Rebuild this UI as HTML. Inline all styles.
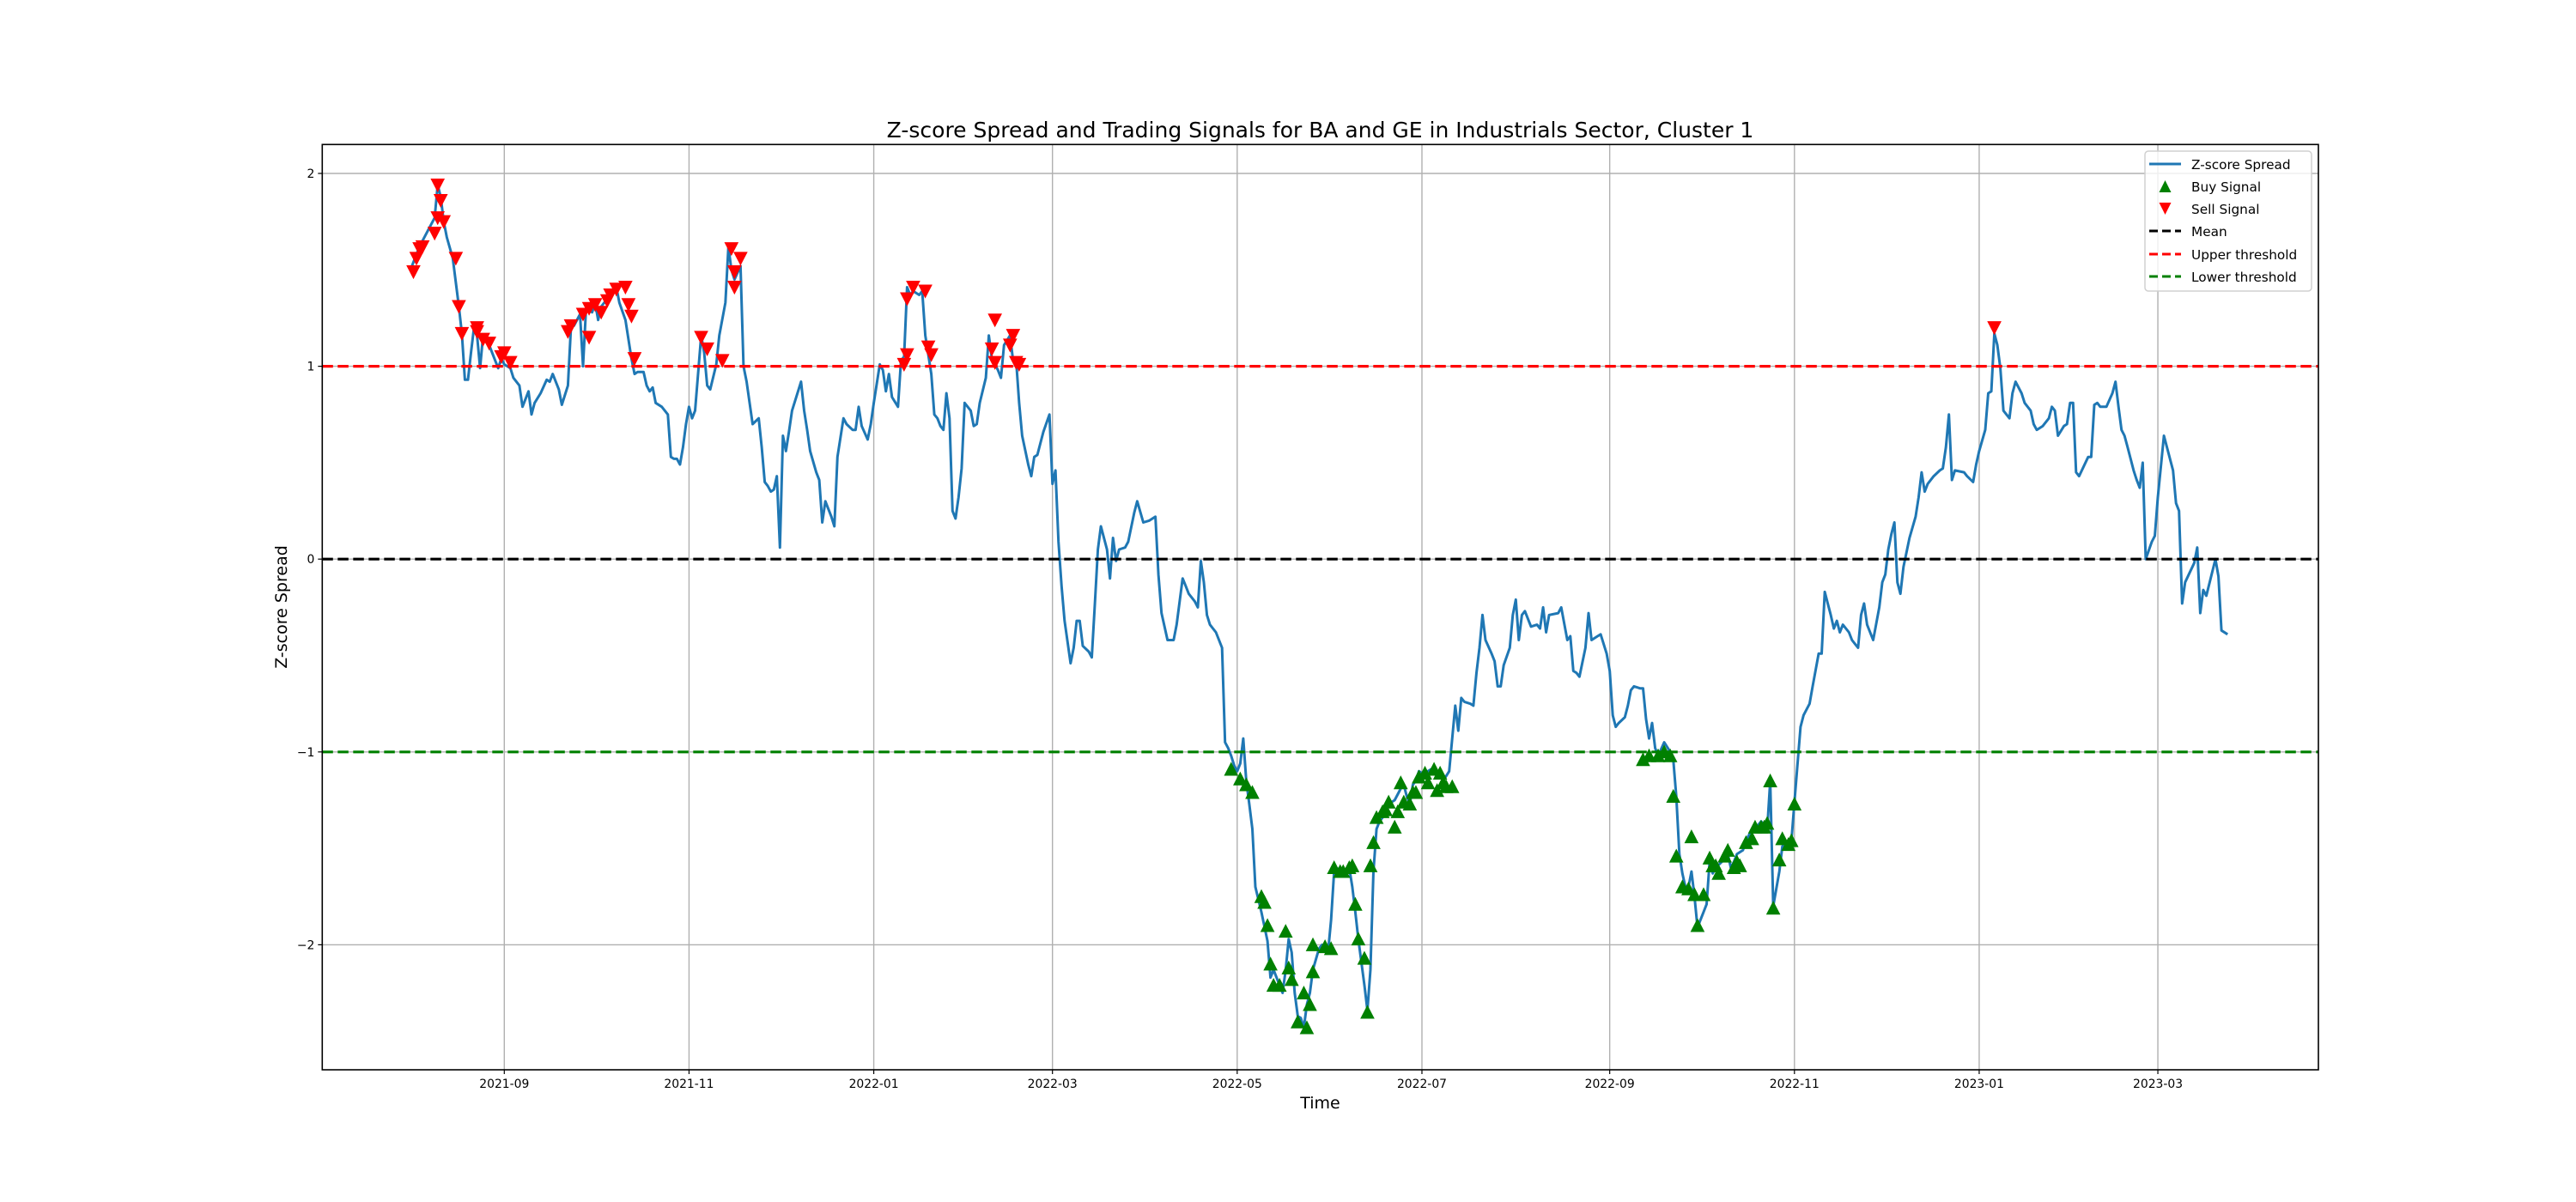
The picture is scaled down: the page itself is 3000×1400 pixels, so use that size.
<!DOCTYPE html>
<html><head><meta charset="utf-8"><style>
html,body{margin:0;padding:0;background:#fff;}
svg{display:block;font-family:"DejaVu Sans","Liberation Sans",sans-serif;}
</style></head><body>
<svg id="chart" width="3000" height="1400" viewBox="0 0 3000 1400" xmlns="http://www.w3.org/2000/svg">
<rect width="3000" height="1400" fill="#fff"/>
<text x="1537.5" y="160" text-anchor="middle" font-size="25" fill="#000">Z-score Spread and Trading Signals for BA and GE in Industrials Sector, Cluster 1</text>
<g id="grid"></g>
<g id="plot"></g>
<g id="axes"></g>
<text x="1537.5" y="1291" text-anchor="middle" font-size="19" fill="#000">Time</text>
<text x="0" y="0" transform="translate(334,707) rotate(-90)" text-anchor="middle" font-size="19" fill="#000">Z-score Spread</text>
<g>
<rect x="2498" y="176" width="194" height="163" rx="4" fill="#fff" fill-opacity="0.8" stroke="#d0d0d0" stroke-width="1.5"/>
<g><line x1="2503" y1="191" x2="2540" y2="191" stroke="#1f77b4" stroke-width="3"/><text x="2552" y="197" font-size="15.3">Z-score Spread</text></g>
<g><polygon points="2521.5,210 2514.5,224 2528.5,224" fill="green"/><text x="2552" y="223" font-size="15.3">Buy Signal</text></g>
<g><polygon points="2521.5,250 2514.5,236 2528.5,236" fill="red"/><text x="2552" y="249" font-size="15.3">Sell Signal</text></g>
<g><line x1="2503" y1="269" x2="2540" y2="269" stroke="#000" stroke-width="3" stroke-dasharray="10,5"/><text x="2552" y="275" font-size="15.3">Mean</text></g>
<g><line x1="2503" y1="296" x2="2540" y2="296" stroke="red" stroke-width="3" stroke-dasharray="10,5"/><text x="2552" y="302" font-size="15.3">Upper threshold</text></g>
<g><line x1="2503" y1="322" x2="2540" y2="322" stroke="green" stroke-width="3" stroke-dasharray="10,5"/><text x="2552" y="328" font-size="15.3">Lower threshold</text></g>
</g>
</svg>
<script>
// days since 2021-08-01
const days=[0,2,3,6,8,9,10,11,12,14,16,17,18,19,20,21,22,23,24,26,28,29,30,31,33,34,36,37,39,40,41,43,45,46,47,49,50,52,53,54,56,57,58,60,61,62,63,65,66,68,69,71,73,74,75,77,78,79,80,81,83,85,86,87,88,89,90,91,92,93,94,96,97,98,99,101,102,104,105,106,107,109,110,111,112,113,115,116,117,118,119,120,121,122,123,124,125,126,129,130,131,132,134,135,136,137,138,139,140,141,143,144,146,147,148,149,151,152,153,155,156,157,158,159,161,162,163,164,165,166,168,169,170,172,173,174,175,176,177,178,179,180,181,182,183,185,186,187,188,190,191,192,193,194,195,196,198,199,200,201,202,204,205,206,207,208,209,211,212,213,214,215,216,218,219,220,221,222,224,225,226,227,228,230,231,232,233,234,236,237,239,240,242,244,246,247,248,250,251,252,253,255,256,257,259,260,261,262,263,264,266,268,269,270,271,272,273,274,275,276,277,278,279,281,283,284,285,287,288,289,290,291,292,293,294,295,296,297,298,300,301,302,303,304,305,307,308,310,311,312,313,315,316,317,318,319,320,322,323,325,327,328,329,330,331,332,333,335,336,338,340,341,343,345,346,347,348,350,351,352,353,354,355,357,358,359,360,361,363,364,365,366,367,368,370,372,373,374,375,376,379,380,382,383,384,385,386,388,389,390,392,393,395,396,397,398,399,401,402,403,404,406,407,408,409,410,411,412,414,416,417,418,419,420,421,422,423,424,425,427,428,429,430,431,433,434,435,436,437,438,440,441,442,443,444,445,446,447,448,449,450,452,453,454,456,457,459,460,462,463,465,466,467,468,469,470,471,472,473,475,476,478,479,480,481,483,485,486,487,488,489,490,491,492,493,495,497,498,499,500,501,503,505,506,507,508,509,510,513,514,516,517,518,520,521,522,523,524,525,526,528,529,530,532,533,535,536,537,539,541,542,543,544,546,547,548,549,550,551,554,555,556,557,558,560,562,563,564,565,566,567,569,570,571,572,573,575,576,577,579,582,583,584,585,586,589,590,591,592,593,596,597,598,600];
const values=[1.50,1.58,1.62,1.71,1.77,1.94,1.88,1.75,1.67,1.56,1.31,1.17,0.93,0.93,1.07,1.20,1.16,0.99,1.16,1.11,1.03,0.99,1.04,1.01,0.99,0.94,0.90,0.79,0.87,0.75,0.81,0.86,0.93,0.92,0.96,0.88,0.80,0.90,1.20,1.21,1.27,1.00,1.30,1.28,1.33,1.24,1.31,1.35,1.39,1.41,1.33,1.24,1.04,0.96,0.97,0.97,0.90,0.87,0.89,0.81,0.79,0.75,0.53,0.52,0.52,0.49,0.58,0.70,0.79,0.73,0.77,1.16,1.07,0.90,0.88,1.01,1.16,1.33,1.62,1.50,1.45,1.52,1.00,0.92,0.81,0.70,0.73,0.58,0.40,0.38,0.35,0.36,0.43,0.06,0.64,0.56,0.66,0.77,0.92,0.77,0.67,0.56,0.45,0.41,0.19,0.30,0.26,0.22,0.17,0.53,0.73,0.70,0.67,0.67,0.79,0.69,0.62,0.70,0.81,1.01,0.98,0.87,0.96,0.84,0.79,1.03,1.05,1.41,1.37,1.39,1.37,1.39,1.16,0.96,0.75,0.73,0.69,0.67,0.86,0.73,0.25,0.21,0.32,0.47,0.81,0.77,0.69,0.70,0.81,0.94,1.16,1.04,1.01,0.98,0.94,1.11,1.16,1.03,1.03,0.81,0.64,0.49,0.43,0.53,0.54,0.60,0.66,0.75,0.39,0.46,0.09,-0.14,-0.32,-0.54,-0.46,-0.32,-0.32,-0.45,-0.48,-0.51,-0.23,0.05,0.17,0.05,-0.10,0.11,-0.01,0.05,0.06,0.09,0.24,0.30,0.19,0.20,0.22,-0.08,-0.28,-0.42,-0.42,-0.42,-0.34,-0.10,-0.14,-0.18,-0.22,-0.25,-0.01,-0.12,-0.29,-0.34,-0.38,-0.46,-0.95,-0.98,-1.02,-1.07,-1.10,-1.06,-0.93,-1.15,-1.27,-1.40,-1.70,-1.83,-1.98,-2.17,-2.13,-2.21,-2.25,-2.13,-1.97,-2.04,-2.25,-2.37,-2.38,-2.43,-2.31,-2.25,-2.13,-2.02,-2.00,-2.02,-2.04,-1.87,-1.62,-1.60,-1.62,-1.60,-1.70,-1.83,-1.97,-2.21,-2.34,-2.13,-1.62,-1.40,-1.36,-1.32,-1.27,-1.25,-1.19,-1.17,-1.23,-1.27,-1.17,-1.15,-1.10,-1.12,-1.10,-1.08,-1.12,-1.15,-1.10,-0.76,-0.89,-0.72,-0.74,-0.75,-0.76,-0.59,-0.46,-0.29,-0.42,-0.49,-0.53,-0.66,-0.66,-0.55,-0.46,-0.29,-0.21,-0.42,-0.29,-0.27,-0.35,-0.34,-0.36,-0.25,-0.38,-0.29,-0.28,-0.25,-0.42,-0.40,-0.58,-0.59,-0.61,-0.46,-0.28,-0.42,-0.40,-0.39,-0.49,-0.58,-0.81,-0.87,-0.85,-0.82,-0.76,-0.68,-0.66,-0.67,-0.67,-0.83,-0.93,-0.85,-0.98,-1.02,-0.95,-1.00,-1.04,-1.23,-1.53,-1.63,-1.70,-1.70,-1.62,-1.75,-1.91,-1.83,-1.79,-1.57,-1.63,-1.60,-1.57,-1.55,-1.53,-1.60,-1.57,-1.53,-1.51,-1.46,-1.43,-1.41,-1.38,-1.38,-1.36,-1.38,-1.40,-1.15,-1.80,-1.62,-1.49,-1.47,-1.46,-1.26,-0.87,-0.81,-0.75,-0.66,-0.49,-0.49,-0.17,-0.23,-0.29,-0.36,-0.32,-0.38,-0.34,-0.38,-0.42,-0.46,-0.29,-0.23,-0.34,-0.42,-0.25,-0.12,-0.08,0.05,0.13,0.19,-0.12,-0.18,-0.04,0.11,0.22,0.32,0.45,0.35,0.39,0.43,0.46,0.47,0.58,0.75,0.41,0.46,0.45,0.43,0.40,0.49,0.56,0.67,0.86,0.87,1.17,1.11,0.99,0.77,0.73,0.86,0.92,0.86,0.81,0.77,0.70,0.67,0.69,0.73,0.79,0.77,0.64,0.69,0.70,0.81,0.81,0.45,0.43,0.53,0.53,0.80,0.81,0.79,0.79,0.86,0.92,0.79,0.67,0.64,0.58,0.46,0.41,0.37,0.50,0.00,0.09,0.12,0.32,0.64,0.46,0.29,0.25,-0.23,-0.12,-0.02,0.06,-0.28,-0.16,-0.19,0.00,-0.09,-0.37,-0.39];
const sellDays=[1,2,3,4,8,9,9,10,11,15,16,17,22,22,24,26,30,31,33,52,53,57,59,59,61,63,65,66,68,71,72,73,74,96,98,103,106,107,107,109,163,164,164,166,170,171,172,192,193,193,198,199,200,201,523];
const sellVals=[1.49,1.56,1.61,1.62,1.69,1.77,1.94,1.86,1.75,1.56,1.31,1.17,1.20,1.18,1.14,1.12,1.05,1.07,1.02,1.18,1.21,1.27,1.30,1.15,1.32,1.28,1.34,1.37,1.40,1.41,1.32,1.26,1.04,1.15,1.09,1.03,1.61,1.41,1.49,1.56,1.01,1.06,1.35,1.41,1.39,1.10,1.06,1.09,1.24,1.02,1.11,1.16,1.02,1.01,1.20];
const buyDays=[271,274,276,278,281,282,283,284,285,287,289,290,291,293,295,296,297,298,298,302,304,305,307,308,310,311,312,313,315,316,317,318,319,321,322,323,325,326,327,328,330,331,332,333,335,336,338,339,340,341,342,344,407,409,412,414,416,417,418,420,422,423,424,425,427,429,430,431,432,434,435,437,438,439,441,443,444,446,447,448,449,450,452,453,455,456,457];
const buyVals=[-1.09,-1.14,-1.17,-1.21,-1.75,-1.78,-1.90,-2.10,-2.21,-2.21,-1.93,-2.12,-2.18,-2.40,-2.25,-2.43,-2.31,-2.14,-2.00,-2.01,-2.02,-1.60,-1.62,-1.62,-1.60,-1.59,-1.79,-1.97,-2.07,-2.35,-1.59,-1.47,-1.34,-1.31,-1.30,-1.26,-1.39,-1.31,-1.16,-1.26,-1.27,-1.21,-1.21,-1.13,-1.11,-1.16,-1.09,-1.20,-1.11,-1.16,-1.18,-1.18,-1.04,-1.02,-1.02,-1.00,-1.02,-1.23,-1.54,-1.70,-1.71,-1.44,-1.74,-1.90,-1.74,-1.55,-1.59,-1.59,-1.63,-1.54,-1.51,-1.60,-1.57,-1.59,-1.47,-1.45,-1.39,-1.39,-1.39,-1.37,-1.15,-1.81,-1.56,-1.45,-1.48,-1.46,-1.27];
const xTickDays=[31,92,153,212,273,334,396,457,518,577];
const xTickLabels=["2021-09","2021-11","2022-01","2022-03","2022-05","2022-07","2022-09","2022-11","2023-01","2023-03"];
const yTicks=[-2,-1,0,1,2];
const yTickLabels=["\u22122","\u22121","0","1","2"];
const meanLevel=0, upperLevel=1, lowerLevel=-1;

const L=375.3,R=2700,T=168.3,B=1246;
function xs(d){return 587.3+(d-31)*3.527;}
function ys(v){return 651.2-v*224.6;}
const NS="http://www.w3.org/2000/svg";
function mk(tag,attrs,parent){const e=document.createElementNS(NS,tag);for(const k in attrs)e.setAttribute(k,attrs[k]);parent.appendChild(e);return e;}
const grid=document.getElementById('grid'),plot=document.getElementById('plot'),axes=document.getElementById('axes');

xTickDays.forEach((d,i)=>{
  const x=xs(d);
  const g=mk('line',{x1:x,x2:x,y1:T,y2:B,stroke:'#b0b0b0','stroke-width':1.4},grid);
  
  
  const t=mk('line',{x1:x,x2:x,y1:B,y2:B+5,stroke:'#000','stroke-width':1.2},axes);
  
  
  const lb=mk('text',{x:x,y:B+21,'text-anchor':'middle','font-size':13.9,fill:'#000'},axes);
  lb.textContent=xTickLabels[i];
  
  
});
yTicks.forEach((v,i)=>{
  const y=ys(v);
  const g=mk('line',{x1:L,x2:R,y1:y,y2:y,stroke:'#b0b0b0','stroke-width':1.4},grid);
  
  
  const t=mk('line',{x1:L-5,x2:L,y1:y,y2:y,stroke:'#000','stroke-width':1.2},axes);
  
  
  const lb=mk('text',{x:L-9,y:y+5,'text-anchor':'end','font-size':13.9,fill:'#000'},axes);
  lb.textContent=yTickLabels[i];
  
  
});
const frame=mk('rect',{x:L,y:T,width:R-L,height:B-T,fill:'none',stroke:'#000','stroke-width':1.6},axes);



let d='';
days.forEach((dd,i)=>{d+=(i?'L':'M')+xs(dd).toFixed(1)+','+ys(values[i]).toFixed(1);});
const line=mk('path',{d:d,fill:'none',stroke:'#1f77b4','stroke-width':3,'stroke-linejoin':'round'},plot);



[[meanLevel,'#000','mean-line'],[upperLevel,'red','upper-threshold-line'],[lowerLevel,'green','lower-threshold-line']].forEach(r=>{
  const y=ys(r[0]);
  const l=mk('line',{x1:L,x2:R,y1:y,y2:y,stroke:r[1],'stroke-width':3.2,'stroke-dasharray':'12.5,5.5'},plot);
  
  
});

sellDays.forEach((dd,i)=>{
  const x=xs(dd),y=ys(sellVals[i]);
  const p=mk('polygon',{points:`${x-7.5},${y-7} ${x+7.5},${y-7} ${x},${y+7.5}`,fill:'red',stroke:'red','stroke-width':1},plot);
  
  
});
buyDays.forEach((dd,i)=>{
  const x=xs(dd),y=ys(buyVals[i]);
  const p=mk('polygon',{points:`${x-7.5},${y+7} ${x+7.5},${y+7} ${x},${y-7.5}`,fill:'green',stroke:'green','stroke-width':1},plot);
  
  
});
</script>
</body></html>
